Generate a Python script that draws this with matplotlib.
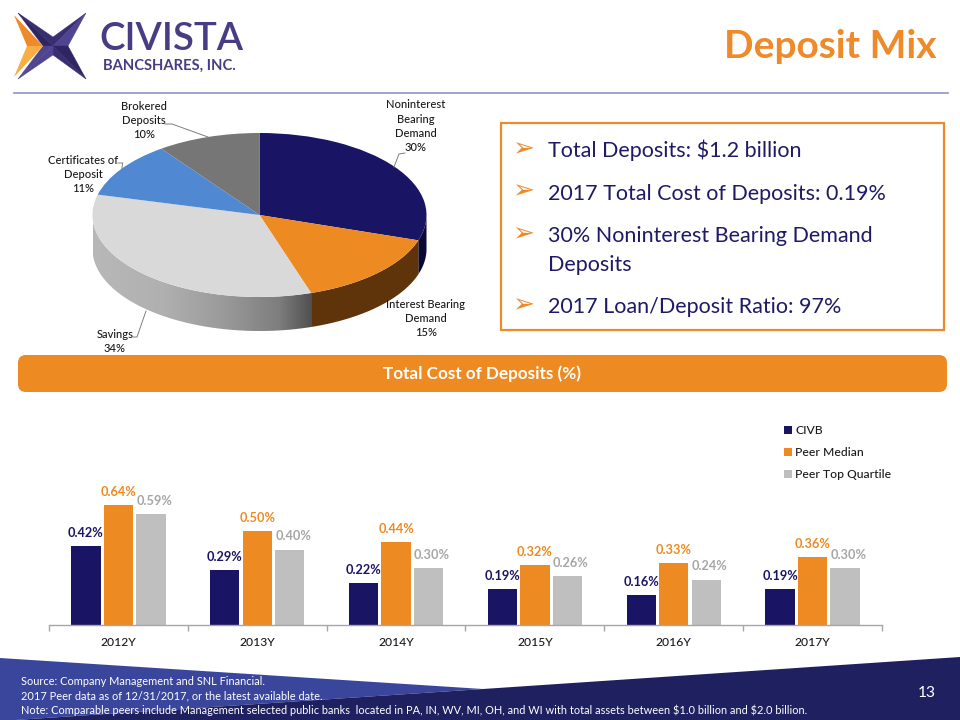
import numpy as np
import matplotlib
matplotlib.use("Agg")
import matplotlib.pyplot as plt
from matplotlib.patches import Polygon, Rectangle, FancyBboxPatch
from matplotlib.colors import LinearSegmentedColormap

plt.rcParams['font.family'] = ['Lato', 'DejaVu Sans']
plt.rcParams['text.parse_math'] = False

# ---- data ----
pie_names = ["Noninterest\nBearing\nDemand", "Interest Bearing\nDemand", "Savings",
             "Certificates of\nDeposit", "Brokered\nDeposits"]
pie_values = [30, 15, 34, 11, 10]
years = ["2012Y", "2013Y", "2014Y", "2015Y", "2016Y", "2017Y"]
civb = [0.42, 0.29, 0.22, 0.19, 0.16, 0.19]
peer_median = [0.64, 0.50, 0.44, 0.32, 0.33, 0.36]
peer_top = [0.59, 0.40, 0.30, 0.26, 0.24, 0.30]
series_names = ["CIVB", "Peer Median", "Peer Top Quartile"]
bullets = [("Total Deposits: $1.2 billion", 157), ("2017 Total Cost of Deposits: 0.19%", 199.5),
           ("30% Noninterest Bearing Demand", 242), ("Deposits", 271), ("2017 Loan/Deposit Ratio: 97%", 313)]
footer = ["Source: Company Management and SNL Financial.",
          "2017 Peer data as of 12/31/2017, or the latest available date.",
          "Note: Comparable peers include Management selected public banks  located in PA, IN, WV, MI, OH, and WI with total assets between $1.0 billion and $2.0 billion."]

NAVY, ORANGE, GRAY = "#1a1464", "#ee8a22", "#bfbfbf"
W, H = 960, 720
fig = plt.figure(figsize=(9.6, 7.2), dpi=100, facecolor="white")

def px_axes(x0, y0, x1, y1, **kw):
    return fig.add_axes([x0 / W, 1 - y1 / H, (x1 - x0) / W, (y1 - y0) / H], **kw)

# page overlay in pixel coordinates
pg = px_axes(0, 0, W, H, zorder=0)
pg.set_xlim(0, W); pg.set_ylim(H, 0); pg.axis("off")

# footer bands
pg.add_patch(Polygon([(0, 658), (483, 689), (0, 721)], fc="#3a469c", ec="none"))
pg.add_patch(Polygon([(0, 721), (483, 689), (960, 657), (960, 720)], fc="#1f2060", ec="none"))
for i, t in enumerate(footer):
    pg.text(21, 681.5 + i * 14.5, t, color="white", fontsize=7.95, va="center", ha="left")
pg.text(936, 693, "13", color="white", fontsize=11.2, ha="right", va="center")

# logo
c, tl, tr, br, bl = (53, 46), (18, 13), (86, 13), (86, 79), (18, 79)
top, right, bottom, left = (53, 37), (68, 46), (53, 55), (43, 46)
D1, D2, L1 = "#2f2563", "#3a2e72", "#4f4490"
for pts, col in [((c, tl, top), D2), ((c, tl, left), D1), ((c, tr, top), D2), ((c, tr, right), L1),
                 ((c, br, right), D1), ((c, br, bottom), D2), ((c, bl, bottom), L1), ((c, bl, left), L1)]:
    pg.add_patch(Polygon(pts, fc=col, ec=col, lw=0.3))
pg.add_patch(Polygon([(14, 15), (43, 46), (27, 46)], fc="#ee8a2a", ec="none"))
pg.add_patch(Polygon([(14, 77), (43, 46), (27, 46)], fc="#f9ad44", ec="none"))
pg.text(99, 50.5, "CIVISTA", color="#483d85", fontsize=27.6, fontweight="semibold", ha="left", va="baseline")
pg.text(103, 69.5, "BANCSHARES, INC.", color="#483d85", fontsize=10.6, fontweight="bold", ha="left", va="baseline")

# title and header rule
pg.text(937, 58, "Deposit Mix", color="#ee8a2a", fontsize=28, fontweight="bold", ha="right", va="baseline")
pg.plot([14, 948], [92.5, 92.5], color="#8f92c4", lw=1.2)

# text box
pg.add_patch(Rectangle((501, 122.5), 443, 207.5, fc="white", ec="#ee8a2a", lw=1.6))
for t, y in bullets:
    pg.text(547.5, y, t, color="#1f1a66", fontsize=15.45, ha="left", va="baseline")
    if t != "Deposits":
        pg.text(512, y - 1, "\u27a2", color="#ee8a2a", fontsize=19, family="DejaVu Sans", ha="left", va="baseline")

# banner
pg.add_patch(FancyBboxPatch((18, 355), 929, 37, boxstyle="round,pad=0,rounding_size=8",
                            fc="#ee8a22", ec="none"))
pg.text(482, 374, "Total Cost of Deposits (%)", color="white", fontsize=12.3, fontweight="bold", ha="center", va="center")

# 3-D style pie
CX, CY, RX, RY, DEPTH = 259.5, 215, 167, 82, 34
ap = px_axes(CX - RX, CY - RY, CX + RX, CY + RY + DEPTH + 2, zorder=1)
pie_colors = [NAVY, "#ee8a22", "#d9d9d9", "#5089d1", "#767676"]
ap.pie(pie_values, colors=pie_colors, startangle=90, counterclock=False, radius=1, center=(0, 0),
       wedgeprops=dict(linewidth=0), frame=False)
dz = DEPTH / RY
savings_cmap = LinearSegmentedColormap.from_list("wall", [(0, "#b8b8b8"), (0.32, "#b0b0b0"), (0.6, "#9a9a9a"),
                                                          (0.85, "#7e7e7e"), (1, "#505050")])
wall_cols = ["#0b0838", "#5f340b", None]
cum = np.cumsum([0] + pie_values) / sum(pie_values) * 360
ymin = -(RY + DEPTH + 2) / RY
for k in range(len(pie_values)):
    a0, a1 = max(cum[k], 90), min(cum[k + 1], 270)
    if a1 <= a0:
        continue
    t = np.radians(np.linspace(a0, a1, 200))
    xs, ys = np.sin(t), np.cos(t)
    verts = np.vstack([np.c_[xs, ys], np.c_[xs[::-1], ys[::-1] - dz]])
    if wall_cols[k] is not None:
        ap.add_patch(Polygon(verts, fc=wall_cols[k], ec="none", zorder=0))
    else:
        poly = Polygon(verts, fc="none", ec="none", transform=ap.transData)
        ap.add_patch(poly)
        x0, x1 = xs.min(), xs.max()
        im = ap.imshow(np.linspace(0, 1, 256)[None, :], cmap=savings_cmap, vmin=0, vmax=1,
                       extent=(x0, x1, ymin, 1), aspect="auto", zorder=0, interpolation="bilinear")
        im.set_clip_path(poly)
ap.set_aspect("auto")
ap.set_xlim(-1, 1)
ap.set_ylim(ymin, 1)
ap.axis("off")
ap.patch.set_alpha(0)

# pie labels and leaders (overlay on top)
ov = px_axes(0, 0, W, H, zorder=3)
ov.set_xlim(0, W); ov.set_ylim(H, 0); ov.axis("off"); ov.patch.set_alpha(0)
label_pos = [(416, 105), (426, 304), (115, 334), (83, 160), (144, 106)]
for name, val, (lx, ly) in zip(pie_names, pie_values, label_pos):
    for i, line in enumerate(name.split("\n") + [f"{val}%"]):
        ov.text(lx, ly + i * 14.2, line, color="#1a1a1a", fontsize=8.0, fontweight="medium", ha="center", va="center")
for seg in [[(165, 124), (172, 124), (208, 137)], [(118, 163), (122.6, 163), (121.7, 170)],
            [(405, 153), (399, 154), (394, 167)], [(133, 337), (137, 337), (146, 311)]]:
    ov.plot(*zip(*seg), color="#7f7f7f", lw=0.7)

# bar chart
SCALE = 187.5
BASE, LEFT, RIGHT, TOP = 624.5, 49, 882, 410
ax = px_axes(LEFT, TOP, RIGHT, BASE, zorder=2)
ax.patch.set_alpha(0)
x = np.arange(len(years))
w, pitch = 0.212, 0.234
colors = [NAVY, ORANGE, GRAY]
label_colors = ["#1a1464", "#ee8a22", "#a6a6a6"]
label_dx = [0, 0, 3.5]
handles = []
for s, vals in enumerate([civb, peer_median, peer_top]):
    bars = ax.bar(x + (s - 1) * pitch, vals, width=w, color=colors[s], linewidth=0, label=series_names[s])
    handles.append(bars)
    for xi, v in zip(x, vals):
        ax.annotate(f"{v:.2f}%", (xi + (s - 1) * pitch, v), xytext=(label_dx[s] * 0.72, 13 * 0.72),
                    textcoords="offset points", ha="center", va="center",
                    color=label_colors[s], fontsize=9.2, fontweight="bold")
ax.set_xlim(-0.5, len(years) - 0.5)
ax.set_ylim(0, (BASE - TOP) / SCALE)
for sp in ["top", "left", "right"]:
    ax.spines[sp].set_visible(False)
ax.spines["bottom"].set_color("#a6a6a6")
ax.spines["bottom"].set_linewidth(1)
ax.yaxis.set_visible(False)
ax.set_xticks(x)
ax.set_xticklabels(years, fontsize=8.7, color="#1a1a1a", fontweight="medium")
ax.tick_params(axis="x", length=0, pad=9)
ax.set_xticks(np.arange(-0.5, len(years)), minor=True)
ax.tick_params(axis="x", which="minor", length=4, color="#a6a6a6", width=1)
leg = fig.legend(handles=handles, loc="upper left", bbox_to_anchor=(784 / W, 1 - 425 / H),
                 frameon=False, fontsize=8.75, handlelength=0.66, handleheight=0.66, handletextpad=0.27,
                 labelspacing=0.92, borderpad=0, borderaxespad=0, labelcolor="#1a1a1a",
                 prop={"size": 8.75, "weight": "medium"})

fig.savefig("out.png", dpi=100)
